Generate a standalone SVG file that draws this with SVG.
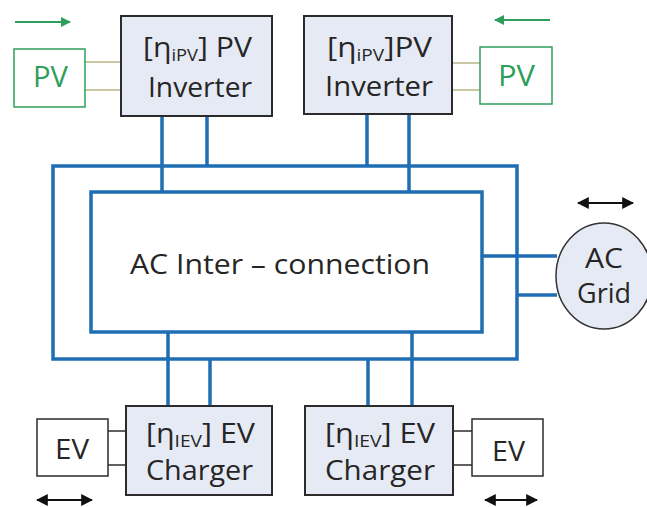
<svg xmlns="http://www.w3.org/2000/svg" width="647" height="507" viewBox="0 0 647 507">
<style>
.box{fill:#e6eaf5;stroke:#2b2b2b;stroke-width:2}
.ev{fill:#ffffff;stroke:#2b2b2b;stroke-width:1.5}
.pv{fill:#ffffff;stroke:#2e9e5b;stroke-width:1.5}
.bus{fill:none;stroke:#1f6db3;stroke-width:3.5}
.w{fill:none;stroke:#1f6db3;stroke-width:3.5}
.pvl{stroke:#b8b486;stroke-width:1.5}
.evl{stroke:#2b2b2b;stroke-width:1.5}
.t{font-family:"Open Sans","Liberation Sans",sans-serif;fill:#262626;font-size:28px}
.c{font-size:27px}
.tg{font-family:"Open Sans","Liberation Sans",sans-serif;fill:#2e9e5b;font-size:30px}
.sub{font-size:17px}
.arr{stroke:#111;stroke-width:2;fill:none}
.garr{stroke:#2e9e5b;stroke-width:2;fill:none}
</style>
<defs>
<marker id="ah" viewBox="0 0 10 10" refX="9" refY="5" markerWidth="6" markerHeight="6" orient="auto-start-reverse"><path d="M0,0 L10,5 L0,10 z" fill="#111"/></marker>
<marker id="gh" viewBox="0 0 10 10" refX="9" refY="5" markerWidth="5" markerHeight="5" orient="auto"><path d="M0,0 L10,5 L0,10 z" fill="#2e9e5b"/></marker>
</defs>
<rect width="647" height="507" fill="#ffffff"/>
<g id="connectors">
<rect class="bus" x="53" y="166" width="464" height="193"/>
<line class="w" x1="162" y1="116" x2="162" y2="192"/>
<line class="w" x1="207" y1="116" x2="207" y2="166"/>
<line class="w" x1="367" y1="114" x2="367" y2="166"/>
<line class="w" x1="409" y1="114" x2="409" y2="192"/>
<line class="w" x1="168" y1="332" x2="168" y2="406"/>
<line class="w" x1="210" y1="359" x2="210" y2="406"/>
<line class="w" x1="368" y1="359" x2="368" y2="406"/>
<line class="w" x1="412" y1="332" x2="412" y2="406"/>
<line class="w" x1="482" y1="256" x2="557" y2="256"/>
<line class="w" x1="517" y1="295" x2="557" y2="295"/>
<line class="pvl" x1="85" y1="62" x2="121" y2="62"/>
<line class="pvl" x1="85" y1="90" x2="121" y2="90"/>
<line class="pvl" x1="452" y1="63" x2="480" y2="63"/>
<line class="pvl" x1="452" y1="90" x2="480" y2="90"/>
<line class="evl" x1="108" y1="431" x2="126" y2="431"/>
<line class="evl" x1="108" y1="465" x2="126" y2="465"/>
<line class="evl" x1="453" y1="431" x2="472" y2="431"/>
<line class="evl" x1="453" y1="465" x2="472" y2="465"/>
<line class="garr" x1="15" y1="22" x2="70" y2="22" marker-end="url(#gh)"/>
<line class="garr" x1="550" y1="20" x2="495" y2="20" marker-end="url(#gh)"/>
<line class="arr" x1="37" y1="500" x2="92" y2="500" marker-start="url(#ah)" marker-end="url(#ah)"/>
<line class="arr" x1="485" y1="500" x2="537" y2="500" marker-start="url(#ah)" marker-end="url(#ah)"/>
<line class="arr" x1="578" y1="203" x2="633" y2="203" marker-start="url(#ah)" marker-end="url(#ah)"/>
</g>
<g id="ac-interconnection">
<rect class="bus" x="91" y="192" width="391" height="140"/>
<text class="t" x="130" y="274" font-size="32" textLength="300" lengthAdjust="spacingAndGlyphs">AC Inter – connection</text>
</g>
<g id="pv-inverter-left">
<rect class="box" x="121" y="16" width="151" height="100"/>
<text class="t" x="143" y="57" textLength="109" lengthAdjust="spacingAndGlyphs">[η<tspan class="sub" dy="4">iPV</tspan><tspan dy="-4">] PV</tspan></text>
<text class="t" x="148" y="97" textLength="104" lengthAdjust="spacingAndGlyphs">Inverter</text>
</g>
<g id="pv-inverter-right">
<rect class="box" x="304" y="16" width="148" height="98"/>
<text class="t" x="327" y="57" textLength="105" lengthAdjust="spacingAndGlyphs">[η<tspan class="sub" dy="4">iPV</tspan><tspan dy="-4">]PV</tspan></text>
<text class="t" x="325" y="96" textLength="108" lengthAdjust="spacingAndGlyphs">Inverter</text>
</g>
<g id="pv-left">
<rect class="pv" x="14" y="49" width="71" height="58"/>
<text class="tg" x="33" y="87" textLength="35" lengthAdjust="spacingAndGlyphs">PV</text>
</g>
<g id="pv-right">
<rect class="pv" x="480" y="47" width="72" height="57"/>
<text class="tg" x="498" y="86" textLength="37" lengthAdjust="spacingAndGlyphs">PV</text>
</g>
<g id="ev-charger-left">
<rect class="box" x="126" y="406" width="146" height="89"/>
<text class="t c" x="146" y="443" textLength="109" lengthAdjust="spacingAndGlyphs">[η<tspan class="sub" dy="4">IEV</tspan><tspan dy="-4">] EV</tspan></text>
<text class="t c" x="146" y="480" textLength="107" lengthAdjust="spacingAndGlyphs">Charger</text>
</g>
<g id="ev-charger-right">
<rect class="box" x="305" y="406" width="148" height="89"/>
<text class="t c" x="325" y="443" textLength="110" lengthAdjust="spacingAndGlyphs">[η<tspan class="sub" dy="4">IEV</tspan><tspan dy="-4">] EV</tspan></text>
<text class="t c" x="325" y="480" textLength="110" lengthAdjust="spacingAndGlyphs">Charger</text>
</g>
<g id="ev-left">
<rect class="ev" x="37" y="419" width="71" height="57"/>
<text class="t" x="55" y="459" font-size="29" textLength="34" lengthAdjust="spacingAndGlyphs">EV</text>
</g>
<g id="ev-right">
<rect class="ev" x="472" y="419" width="71" height="57"/>
<text class="t" x="492" y="461" font-size="29" textLength="33" lengthAdjust="spacingAndGlyphs">EV</text>
</g>
<g id="ac-grid">
<ellipse cx="604" cy="276" rx="48" ry="53" fill="#e6eaf5" stroke="#333" stroke-width="1.5"/>
<text class="t" x="585" y="268" textLength="38" lengthAdjust="spacingAndGlyphs">AC</text>
<text class="t" x="577" y="303" textLength="54" lengthAdjust="spacingAndGlyphs">Grid</text>
</g>
</svg>
